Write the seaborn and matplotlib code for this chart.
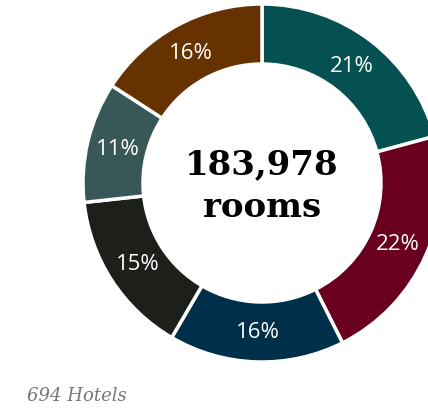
import matplotlib
matplotlib.use("Agg")
import matplotlib.pyplot as plt
import seaborn as sns

# share of rooms per segment, clockwise from 12 o'clock
segments = ["A", "B", "C", "D", "E", "F"]
shares = [21, 22, 16, 15, 11, 16]
pct_labels = ["21%", "22%", "16%", "15%", "11%", "16%"]
colors = ["#055050", "#69001f", "#002f4a", "#1d1f1b", "#385858", "#663300"]

total_rooms = "183,978"
unit = "rooms"
hotels_note = "694 Hotels"

sns.set_theme(style="white")
plt.rcParams['font.family'] = ['Open Sans', 'DejaVu Sans']

W, H = 428, 410
fig = plt.figure(figsize=(W / 100, H / 100), dpi=100)
ax = fig.add_axes([0, 0, 1, 1])

lab_iter = iter(pct_labels)
wedges, texts, autotexts = ax.pie(
    shares,
    colors=colors,
    startangle=90,
    counterclock=False,
    center=(262, H - 184),
    radius=179,
    autopct=lambda p: next(lab_iter),
    pctdistance=0.83,
    wedgeprops=dict(width=60, edgecolor="white", linewidth=2.5),
    textprops=dict(color="white", fontsize=16, fontfamily="Open Sans"),
)

ax.text(262, H - 165, total_rooms, ha="center", va="center", fontsize=24.5,
        fontweight="bold", family="DejaVu Serif", color="black")
ax.text(262, H - 208, unit, ha="center", va="center", fontsize=24.5,
        fontweight="bold", family="DejaVu Serif", color="black")
ax.text(27, H - 396, hotels_note, ha="left", va="center", fontsize=13,
        style="italic", family="DejaVu Serif", color="#777777")

ax.set_xlim(0, W)
ax.set_ylim(0, H)
ax.set_aspect("auto")
ax.axis("off")

fig.savefig("out.png", dpi=100)
